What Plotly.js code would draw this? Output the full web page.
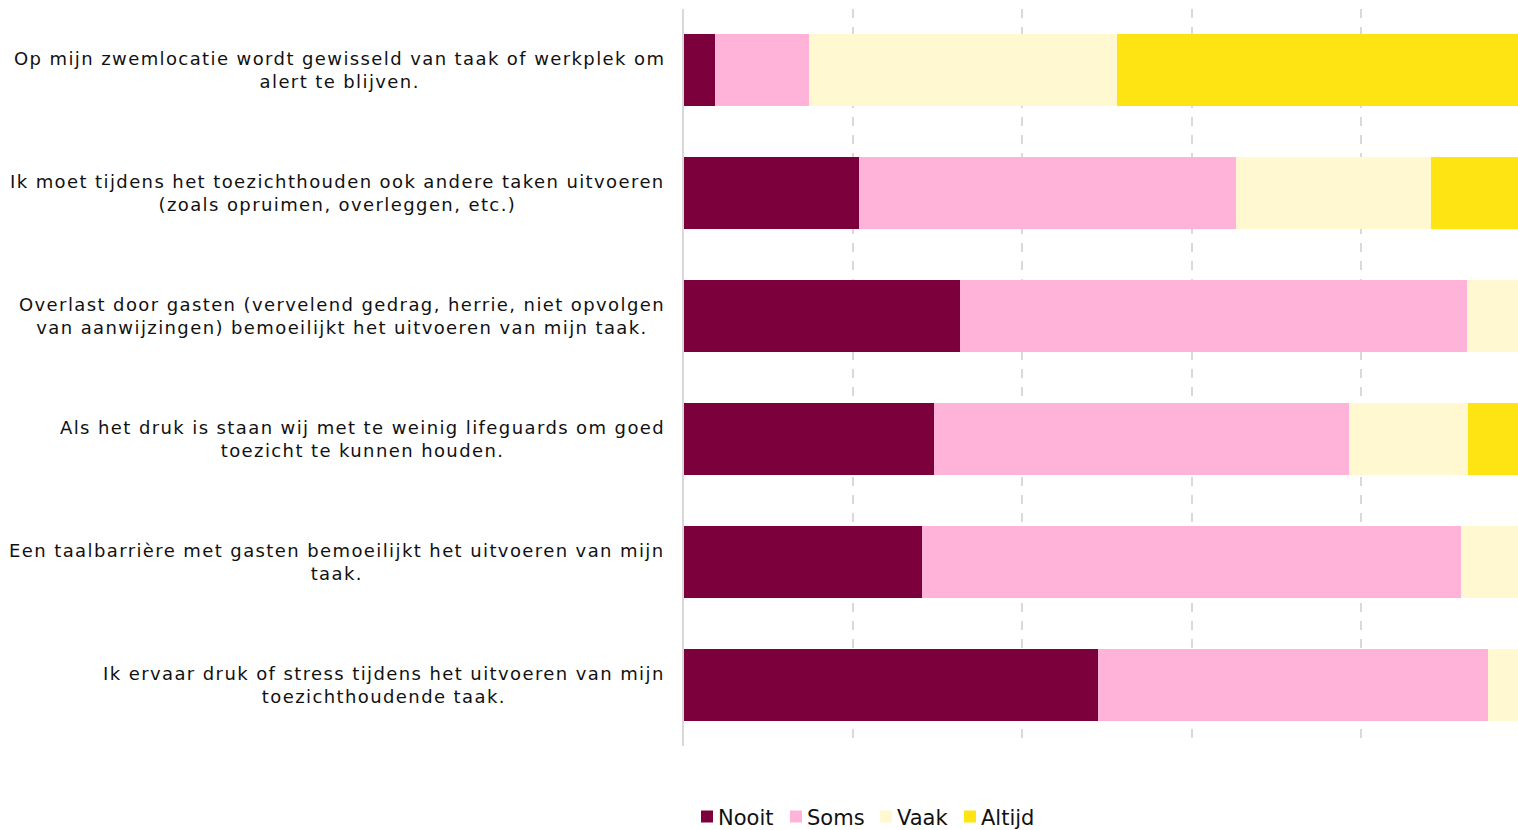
<!DOCTYPE html>
<html>
<head>
<meta charset="utf-8">
<script src="https://cdn.plot.ly/plotly-3.0.1.min.js"></script>
<style>
html,body{margin:0;padding:0;overflow:hidden;background:#fff;}
.annotation-text{letter-spacing:1.4px;}
.legendtext{transform:translateX(-9px);}
</style>
</head>
<body>
<div id="chart" style="width:1518px;height:830px;"></div>
<script>
const categories = [
  "Op mijn zwemlocatie wordt gewisseld van taak of werkplek om<br>alert te blijven.",
  "Ik moet tijdens het toezichthouden ook andere taken uitvoeren<br>(zoals opruimen, overleggen, etc.)",
  "Overlast door gasten (vervelend gedrag, herrie, niet opvolgen<br>van aanwijzingen) bemoeilijkt het uitvoeren van mijn taak.",
  "Als het druk is staan wij met te weinig lifeguards om goed<br>toezicht te kunnen houden.",
  "Een taalbarrière met gasten bemoeilijkt het uitvoeren van mijn<br>taak.",
  "Ik ervaar druk of stress tijdens het uitvoeren van mijn<br>toezichthoudende taak."
];
const catKeys = ["c1","c2","c3","c4","c5","c6"];
const seriesNames = ["Nooit","Soms","Vaak","Altijd"];
const nooit  = [3.7, 20.7, 32.6, 29.6, 28.1, 48.9];
const soms   = [11.1, 44.6, 60.0, 49.0, 63.8, 46.1];
const vaak   = [36.4, 23.0, 7.4, 14.1, 8.1, 5.0];
const altijd = [48.8, 11.7, 0, 7.3, 0, 0];
const colors = ["#7b003c","#ffb3d9","#fff8d1","#ffe414"];
const legendWidths = [44, 45, 39, 52];

const allValues = [nooit, soms, vaak, altijd];
const traces = allValues.map((vals, i) => ({
  type: "bar",
  orientation: "h",
  name: seriesNames[i],
  x: vals,
  y: catKeys,
  legendwidth: legendWidths[i],
  marker: {color: colors[i], line: {width: 0}},
  hoverinfo: "name+x"
}));

const annotations = categories.map((t, i) => ({
  xref: "paper", yref: "y",
  x: 0, y: catKeys[i],
  xanchor: "right", yanchor: "middle",
  xshift: -17,
  align: "center",
  showarrow: false,
  text: t,
  font: {family: "DejaVu Sans, sans-serif", size: 18, color: "#111111"}
}));

const layout = {
  width: 1518, height: 830,
  margin: {l: 684, r: 0, t: 9, b: 84},
  barmode: "stack",
  bargap: 0.414,
  showlegend: true,
  plot_bgcolor: "#fff", paper_bgcolor: "#fff",
  font: {family: "DejaVu Sans, sans-serif", color: "#111111"},
  xaxis: {
    range: [0, 98.6],
    dtick: 20, tick0: 0,
    showgrid: true, gridcolor: "#d9d9d9", gridwidth: 2, griddash: "dash",
    zeroline: false, showticklabels: false, ticks: "", fixedrange: true
  },
  yaxis: {
    autorange: "reversed",
    showticklabels: false, ticks: "",
    showline: true, linecolor: "#d9d9d9", linewidth: 2,
    showgrid: false, zeroline: false, fixedrange: true
  },
  legend: {
    orientation: "h",
    xref: "paper", x: 0.0036, xanchor: "left",
    yref: "container", y: 0.0406, yanchor: "top",
    font: {family: "DejaVu Sans, sans-serif", size: 21, color: "#111111"},
    traceorder: "normal"
  },
  annotations: annotations
};

Plotly.newPlot("chart", traces, layout, {displayModeBar: false, staticPlot: true});
</script>
</body>
</html>
